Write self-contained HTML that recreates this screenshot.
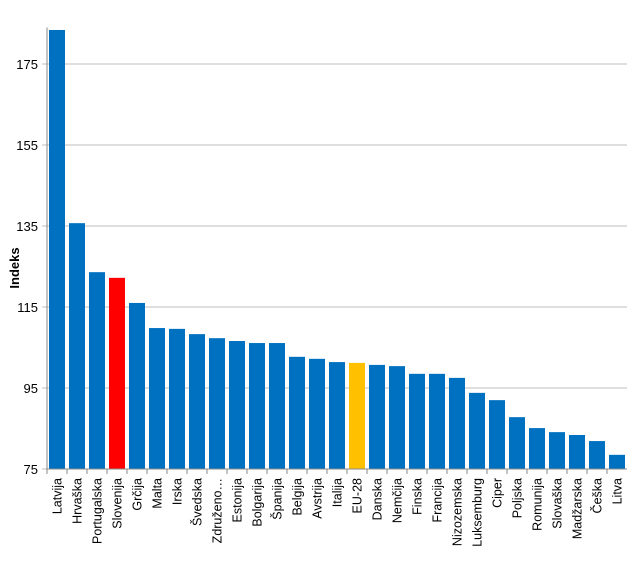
<!DOCTYPE html>
<html><head><meta charset="utf-8"><style>
body{margin:0;background:#fff;font-family:"Liberation Sans",sans-serif}
</style></head><body>
<svg id="c" width="641" height="572" xmlns="http://www.w3.org/2000/svg"></svg>
<script>
const categories=["Latvija","Hrvaška","Portugalska","Slovenija","Grčija","Malta","Irska","Švedska","Združeno…","Estonija","Bolgarija","Španija","Belgija","Avstrija","Italija","EU-28","Danska","Nemčija","Finska","Francija","Nizozemska","Luksemburg","Ciper","Poljska","Romunija","Slovaška","Madžarska","Češka","Litva"];
const values=[183.4,135.7,123.6,122.2,116,109.8,109.6,108.3,107.3,106.6,106.1,106.1,102.7,102.2,101.4,101.2,100.7,100.4,98.5,98.5,97.5,93.8,92,87.8,85.1,84.1,83.4,81.9,78.5];
const ticks=[75,95,115,135,155,175];
const NS="http://www.w3.org/2000/svg",svg=document.getElementById('c');
const x0=47,x1=627,yB=469,yMin=75,pxPer=4.05;
const band=(x1-x0)/categories.length;
const y=v=>yB-(v-yMin)*pxPer;
function mk(t,a,p){const e=document.createElementNS(NS,t);for(const k in a)e.setAttribute(k,a[k]);(p||svg).appendChild(e);return e;}
ticks.forEach(t=>{
 const g=mk('line',{x1:x0-5,x2:x1,y1:y(t),y2:y(t),stroke:'#bfbfbf','stroke-width':1});
 
 
 const l=mk('text',{x:x0-9,y:y(t)+5,'text-anchor':'end','font-size':13,fill:'#000'});
 l.textContent=t;
 
 
});
categories.forEach((c,i)=>{
 const v=values[i];
 const col=c==="Slovenija"?"#ff0000":c==="EU-28"?"#ffc000":"#0070c0";
 const r=mk('rect',{x:x0+i*band+2,y:y(v),width:band-4,height:yB-y(v),fill:col});
 
 
 const cx=x0+(i+0.5)*band;
 const tk=mk('line',{x1:x0+i*band,x2:x0+i*band,y1:yB,y2:yB+5,stroke:'#888'});
 
 
 const t=mk('text',{x:0,y:0,'text-anchor':'end','font-size':12.5,fill:'#000',transform:`translate(${cx+4.5},${yB+9}) rotate(-90)`});
 t.textContent=c;
 
 
});
const ax=mk('line',{x1:x0,x2:x0,y1:y(184),y2:yB,stroke:'#888'});


const bx=mk('line',{x1:x0,x2:x1,y1:yB,y2:yB,stroke:'#888'});


const yt=mk('text',{x:0,y:0,'text-anchor':'middle','font-size':13,'font-weight':'bold',transform:'translate(19,268) rotate(-90)'});
yt.textContent='Indeks';


</script>
</body></html>
